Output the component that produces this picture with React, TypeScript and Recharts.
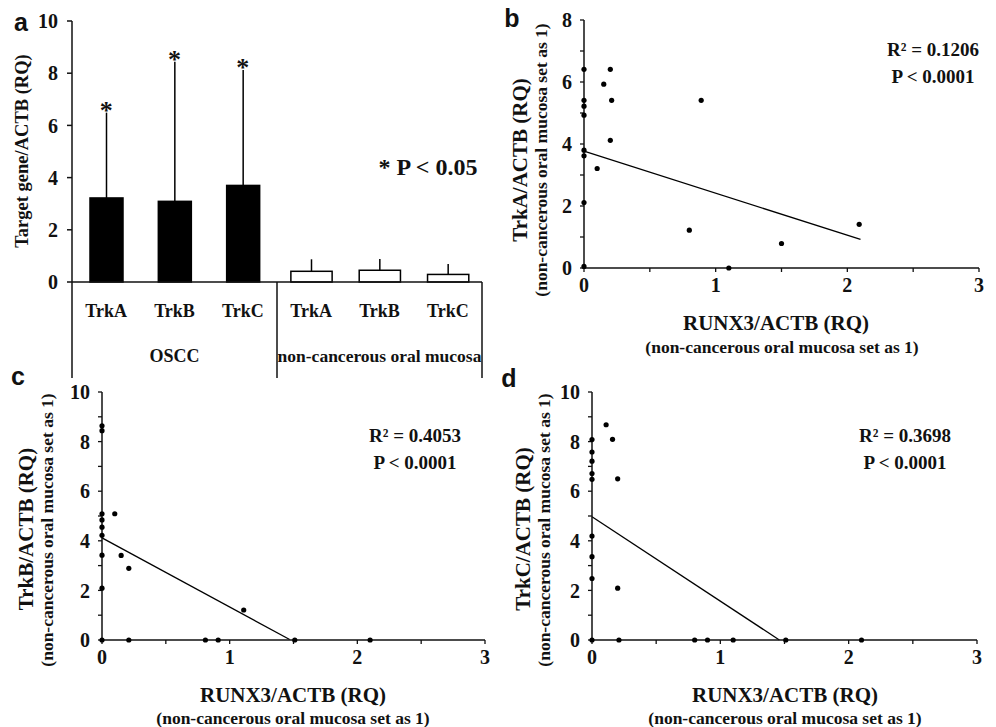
import React from "react";
import {
  Bar,
  BarChart,
  ErrorBar,
  ReferenceDot,
  ReferenceLine,
  Scatter,
  ScatterChart,
  XAxis,
  YAxis,
} from "recharts";

const FONT = "Liberation Serif, Times New Roman, serif";
const INK = "#111";

/* ---------- panel a data ---------- */
const genes = ["TrkA", "TrkB", "TrkC", "TrkA", "TrkB", "TrkC"];
const tissue = ["OSCC", "OSCC", "OSCC", "normal", "normal", "normal"];
const meanRQ = [3.22, 3.09, 3.7, 0.41, 0.45, 0.29];
const sdRQ = [3.27, 5.35, 4.42, 0.46, 0.43, 0.4];
const significant = [true, true, true, false, false, false];
const barTicks = [0, 2, 4, 6, 8, 10];

/* ---------- panels b–d data (RUNX3 vs Trk) ---------- */
const runx3B = [0, 0, 0, 0, 0, 0, 0, 0, 0.1, 0.15, 0.2, 0.21, 0.2, 0.89, 0.8, 1.1, 1.5, 2.09];
const trkA = [6.41, 5.41, 5.22, 4.93, 3.8, 3.62, 2.11, 0.05, 3.21, 5.93, 6.41, 5.41, 4.12, 5.41, 1.22, 0, 0.79, 1.41];
const fitA = [{ x: 0, y: 3.77 }, { x: 2.1, y: 0.92 }];

const runx3C = [0, 0, 0, 0, 0, 0, 0, 0, 0, 0.1, 0.15, 0.21, 1.11, 0.21, 0.81, 0.91, 1.51, 2.1];
const trkB = [8.64, 8.44, 5.09, 4.84, 4.55, 4.22, 3.42, 2.09, 0, 5.09, 3.41, 2.89, 1.21, 0, 0, 0, 0, 0];
const fitB = [{ x: 0, y: 4.12 }, { x: 1.47, y: 0.02 }];

const runx3D = [0, 0, 0, 0, 0, 0, 0, 0, 0, 0.11, 0.16, 0.2, 0.2, 0.21, 0.8, 0.9, 1.1, 1.51, 2.1];
const trkC = [8.08, 7.58, 7.21, 6.71, 6.48, 4.19, 3.36, 2.48, 0, 8.68, 8.09, 6.5, 2.09, 0, 0, 0, 0, 0, 0];
const fitC = [{ x: 0, y: 4.97 }, { x: 1.46, y: 0 }];

const xTicks = [0, 0.5, 1, 1.5, 2, 2.5, 3];

const barData = genes.map((g, i) => ({
  key: `${tissue[i]}-${g}`,
  gene: g,
  tissue: tissue[i],
  mean: meanRQ[i],
  err: [0, sdRQ[i]],
}));

const tickStyle = { fill: INK, fontSize: 20, fontWeight: 700, fontFamily: FONT };
const SUB = "(non-cancerous oral mucosa set as 1)";

function Txt({
  x,
  y,
  size,
  rotate,
  sans,
  children,
}: {
  x: number;
  y: number;
  size: number;
  rotate?: boolean;
  sans?: boolean;
  children: React.ReactNode;
}) {
  return (
    <div
      style={{
        position: "absolute",
        left: x,
        top: y,
        transform: `translate(-50%, -50%)${rotate ? " rotate(-90deg)" : ""}`,
        whiteSpace: "nowrap",
        fontSize: size,
        fontWeight: 700,
        fontFamily: sans ? "Liberation Sans, Arial, sans-serif" : FONT,
        color: INK,
        lineHeight: 1,
      }}
    >
      {children}
    </div>
  );
}

/* ---------- a: bar chart ---------- */
const A_PLOT_W = 410;

function GeneTick(props: any) {
  const { x, y, index } = props;
  const band = A_PLOT_W / genes.length;
  return (
    <g fontFamily={FONT} fontWeight={700} fill={INK}>
      <text x={x} y={y + 35} textAnchor="middle" fontSize={18}>
        {genes[index]}
      </text>
      {index === 1 && (
        <text x={x} y={y + 80} textAnchor="middle" fontSize={18}>
          OSCC
        </text>
      )}
      {index === 4 && (
        <text x={x} y={y + 80} textAnchor="middle" fontSize={17.5}>
          non-cancerous oral mucosa
        </text>
      )}
      {index === 0 && <line x1={x - band / 2} x2={x - band / 2} y1={y} y2={y + 96} stroke={INK} strokeWidth={1.5} />}
      {(index === 2 || index === 5) && (
        <line x1={x + band / 2} x2={x + band / 2} y1={y} y2={y + 96} stroke={INK} strokeWidth={1.5} />
      )}
    </g>
  );
}

function TissueBar(props: any) {
  const { x, y, width, height, payload } = props;
  const normal = payload.tissue !== "OSCC";
  const w = normal ? width * 1.25 : width;
  return (
    <rect
      x={x + (width - w) / 2}
      y={y}
      width={w}
      height={height}
      fill={normal ? "#fff" : "#000"}
      stroke="#000"
      strokeWidth={1.5}
    />
  );
}

function PanelA() {
  return (
    <div style={{ position: "absolute", left: 0, top: 0 }}>
      <BarChart
        width={500}
        height={380}
        data={barData}
        margin={{ top: 21, right: 18, left: 22, bottom: 0 }}
        barCategoryGap={0}
      >
        <XAxis
          dataKey="key"
          height={98}
          tick={<GeneTick />}
          tickLine={false}
          tickSize={0}
          tickMargin={0}
          interval={0}
          axisLine={{ stroke: INK, strokeWidth: 1.5 }}
        />
        <YAxis
          width={50}
          domain={[0, 10]}
          ticks={barTicks}
          tick={tickStyle}
          tickSize={5}
          tickMargin={9}
          tickLine={{ stroke: INK, strokeWidth: 1.5 }}
          axisLine={{ stroke: INK, strokeWidth: 1.5 }}
        />
        <Bar dataKey="mean" barSize={33} shape={<TissueBar />} isAnimationActive={false}>
          <ErrorBar dataKey="err" width={0} stroke="#000" strokeWidth={1.5} direction="y" />
        </Bar>
        {barData
          .filter((_, i) => significant[i])
          .map((d) => (
            <ReferenceDot
              key={d.key}
              x={d.key}
              y={d.mean + d.err[1]}
              r={0}
              stroke="none"
              fill="none"
              label={(p: any) => (
                <text
                  x={p.viewBox.x}
                  y={p.viewBox.y + 6}
                  textAnchor="middle"
                  fontSize={26}
                  fontWeight={700}
                  fontFamily={FONT}
                  fill={INK}
                >
                  *
                </text>
              )}
            />
          ))}
      </BarChart>
    </div>
  );
}

/* ---------- b–d: scatter with regression ---------- */
function Dot(props: any) {
  return <circle cx={props.cx} cy={props.cy} r={2.6} fill="#000" />;
}

function RegressionPanel({
  left,
  top,
  width,
  height,
  margin,
  yMax,
  xs,
  ys,
  fit,
}: {
  left: number;
  top: number;
  width: number;
  height: number;
  margin: { top: number; right: number; left: number; bottom: number };
  yMax: number;
  xs: number[];
  ys: number[];
  fit: { x: number; y: number }[];
}) {
  const pts = xs.map((x, i) => ({ x, y: ys[i] }));
  const yTicks = Array.from({ length: yMax + 1 }, (_, i) => i);
  return (
    <div style={{ position: "absolute", left, top }}>
      <ScatterChart width={width} height={height} margin={margin}>
        <XAxis
          type="number"
          dataKey="x"
          domain={[0, 3]}
          ticks={xTicks}
          tickFormatter={(v: number) => (Number.isInteger(v) ? String(v) : "")}
          height={30}
          tick={tickStyle}
          tickSize={4}
          tickMargin={6}
          tickLine={{ stroke: INK, strokeWidth: 1.3 }}
          axisLine={{ stroke: INK, strokeWidth: 1.5 }}
        />
        <YAxis
          type="number"
          dataKey="y"
          domain={[0, yMax]}
          ticks={yTicks}
          interval={0}
          tickFormatter={(v: number) => (v % 2 === 0 ? String(v) : "")}
          width={40}
          tick={tickStyle}
          tickSize={4}
          tickMargin={8}
          tickLine={{ stroke: INK, strokeWidth: 1.3 }}
          axisLine={{ stroke: INK, strokeWidth: 1.5 }}
        />
        <ReferenceLine segment={fit} stroke="#000" strokeWidth={1.3} />
        <Scatter data={pts} shape={<Dot />} isAnimationActive={false} />
      </ScatterChart>
    </div>
  );
}

export default function App() {
  return (
    <div
      style={{
        position: "absolute",
        left: 0,
        top: 0,
        width: 996,
        height: 727,
        background: "#fff",
        overflow: "hidden",
      }}
    >
      <PanelA />
      <Txt x={21} y={22} size={25} sans>a</Txt>
      <Txt x={22} y={151} size={18.5} rotate>Target gene/ACTB (RQ)</Txt>
      <Txt x={428} y={167} size={24}>* P &lt; 0.05</Txt>

      <RegressionPanel
        left={500}
        top={0}
        width={496}
        height={370}
        margin={{ top: 20, right: 17, left: 44, bottom: 72 }}
        yMax={8}
        xs={runx3B}
        ys={trkA}
        fit={fitA}
      />
      <Txt x={512} y={18} size={25} sans>b</Txt>
      <Txt x={520} y={160} size={21} rotate>TrkA/ACTB (RQ)</Txt>
      <Txt x={542} y={160} size={17.5} rotate>{SUB}</Txt>
      <Txt x={776} y={323} size={21}>RUNX3/ACTB (RQ)</Txt>
      <Txt x={782} y={348} size={17.5}>{SUB}</Txt>
      <Txt x={933} y={49} size={19}>R² = 0.1206</Txt>
      <Txt x={933} y={76} size={19}>P &lt; 0.0001</Txt>

      <RegressionPanel
        left={0}
        top={370}
        width={500}
        height={357}
        margin={{ top: 22, right: 15, left: 62, bottom: 57 }}
        yMax={10}
        xs={runx3C}
        ys={trkB}
        fit={fitB}
      />
      <Txt x={18} y={376} size={25} sans>c</Txt>
      <Txt x={26} y={529} size={21} rotate>TrkB/ACTB (RQ)</Txt>
      <Txt x={48} y={530} size={17.5} rotate>{SUB}</Txt>
      <Txt x={293} y={695} size={21}>RUNX3/ACTB (RQ)</Txt>
      <Txt x={293} y={719} size={17.5}>{SUB}</Txt>
      <Txt x={415} y={435} size={19}>R² = 0.4053</Txt>
      <Txt x={415} y={462} size={19}>P &lt; 0.0001</Txt>

      <RegressionPanel
        left={500}
        top={370}
        width={496}
        height={357}
        margin={{ top: 22, right: 19, left: 52, bottom: 57 }}
        yMax={10}
        xs={runx3D}
        ys={trkC}
        fit={fitC}
      />
      <Txt x={509} y={378} size={25} sans>d</Txt>
      <Txt x={523} y={529} size={21} rotate>TrkC/ACTB (RQ)</Txt>
      <Txt x={545} y={530} size={17.5} rotate>{SUB}</Txt>
      <Txt x={785} y={695} size={21}>RUNX3/ACTB (RQ)</Txt>
      <Txt x={785} y={719} size={17.5}>{SUB}</Txt>
      <Txt x={905} y={435} size={19}>R² = 0.3698</Txt>
      <Txt x={905} y={462} size={19}>P &lt; 0.0001</Txt>
    </div>
  );
}
